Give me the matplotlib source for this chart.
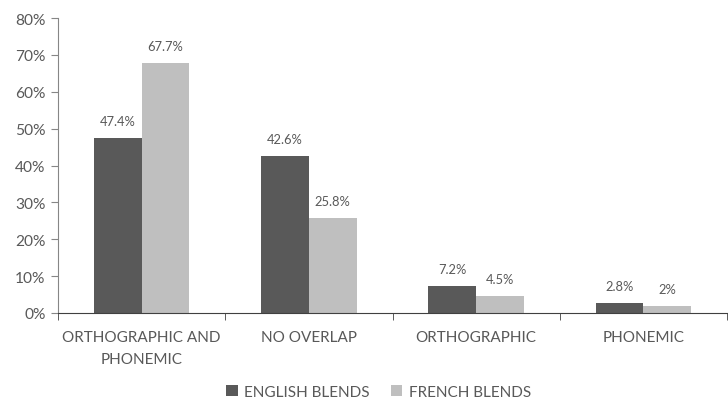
import numpy as np
import matplotlib.pyplot as plt

# values
categories = ['ORTHOGRAPHIC AND\nPHONEMIC', 'NO OVERLAP', 'ORTHOGRAPHIC', 'PHONEMIC']
english = [47.4, 42.6, 7.2, 2.8]
french = [67.7, 25.8, 4.5, 2.0]
english_labels = ['47.4%', '42.6%', '7.2%', '2.8%']
french_labels = ['67.7%', '25.8%', '4.5%', '2%']

plt.rcParams['font.family'] = ['Lato', 'DejaVu Sans']
txt = '#595959'

fig = plt.figure(figsize=(7.28, 4.06), dpi=100)
ax = fig.add_axes([58 / 728, 92 / 406, 669 / 728, 295 / 406])

x = np.arange(len(categories))
w = 0.285
b1 = ax.bar(x - w / 2, english, w, color='#595959', label='ENGLISH BLENDS')
b2 = ax.bar(x + w / 2, french, w, color='#bfbfbf', label='FRENCH BLENDS')

for bars, labs in [(b1, english_labels), (b2, french_labels)]:
    for b, lab in zip(bars, labs):
        ax.text(b.get_x() + b.get_width() / 2, b.get_height() + 3.0, lab,
                ha='center', va='bottom', fontsize=9.3, color=txt)

ax.set_xlim(-0.5, len(categories) - 0.5)
ax.set_ylim(0, 80)
ax.set_yticks(range(0, 81, 10))
ax.set_yticklabels([f'{v}%' for v in range(0, 81, 10)], fontsize=11.2, color=txt)

ax.set_xticks(x)
ax.set_xticklabels(categories, fontsize=11, color=txt, linespacing=1.8)
ax.tick_params(axis='x', length=0, pad=12)
ax.set_xticks(np.arange(-0.5, len(categories)), minor=True)
ax.tick_params(axis='x', which='minor', length=5, color='#404040')
ax.tick_params(axis='y', length=5, color='#868686', pad=4)

for s in ['top', 'right']:
    ax.spines[s].set_visible(False)
ax.spines['left'].set_color('#868686')
ax.spines['bottom'].set_color('#404040')

fig.legend(loc='lower center', bbox_to_anchor=(0.52, -0.018), ncol=2, frameon=False,
           fontsize=11, labelcolor=txt, handlelength=0.75, handleheight=0.75,
           handletextpad=0.4, columnspacing=1.4)

fig.savefig('out.png', dpi=100)
